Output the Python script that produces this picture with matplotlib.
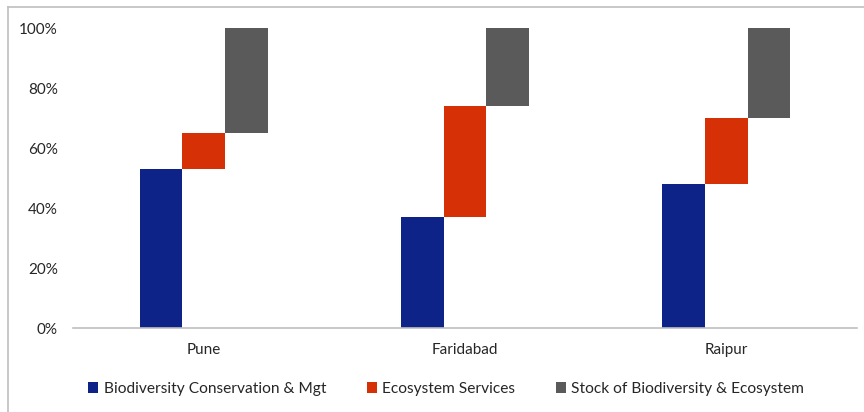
import matplotlib.pyplot as plt
from matplotlib.patches import Patch
from matplotlib.lines import Line2D

# data (percent shares, stacked like a waterfall)
cities = ["Pune", "Faridabad", "Raipur"]
series_names = ["Biodiversity Conservation & Mgt", "Ecosystem Services",
                "Stock of Biodiversity & Ecosystem"]
conservation = [53, 37, 48]
services = [12, 37, 22]
stock = [35, 26, 30]
yticks = [0, 20, 40, 60, 80, 100]

colors = ["#0E2388", "#D63006", "#5A5A5A"]
text_color = "#262626"

plt.rcParams["font.family"] = ["Lato", "DejaVu Sans"]

fig = plt.figure(figsize=(8.64, 4.12), dpi=100)
ax = fig.add_axes([73 / 864, 1 - 328 / 412, 784 / 864, 300 / 412])

w = 0.163
for i in range(len(cities)):
    b1 = conservation[i]
    b2 = b1 + services[i]
    ax.bar(i - w, conservation[i], width=w, bottom=0, color=colors[0])
    ax.bar(i, services[i], width=w, bottom=b1, color=colors[1])
    ax.bar(i + w, stock[i], width=w, bottom=b2, color=colors[2])

ax.set_xlim(-0.5, len(cities) - 0.5)
ax.set_ylim(0, 100)
ax.set_xticks(range(len(cities)))
ax.set_xticklabels(cities)
ax.set_yticks(yticks)
ax.set_yticklabels([f"{v}%" for v in yticks])
ax.tick_params(axis="both", length=0, labelsize=11, colors=text_color)
ax.tick_params(axis="y", pad=11)
ax.tick_params(axis="x", pad=11)

for s in ["top", "right", "left"]:
    ax.spines[s].set_visible(False)
ax.spines["bottom"].set_color("#BFBFBF")
ax.spines["bottom"].set_linewidth(1.2)

handles = [Patch(facecolor=c, edgecolor="none") for c in colors]
fig.legend(handles, series_names, loc="center", bbox_to_anchor=(446 / 864, 1 - 389 / 412),
           ncol=3, frameon=False, fontsize=11.2, handlelength=0.65, handleheight=0.65,
           handletextpad=0.35, columnspacing=2.6, labelcolor=text_color)

# outer chart frame (cropped: only left and top edges visible)
fig.add_artist(Line2D([8 / 864, 8 / 864], [0, 1 - 7 / 412], transform=fig.transFigure,
                      color="#BFBFBF", linewidth=1.2))
fig.add_artist(Line2D([8 / 864, 1], [1 - 7 / 412, 1 - 7 / 412], transform=fig.transFigure,
                      color="#BFBFBF", linewidth=1.2))

fig.savefig("out.png", dpi=100)
